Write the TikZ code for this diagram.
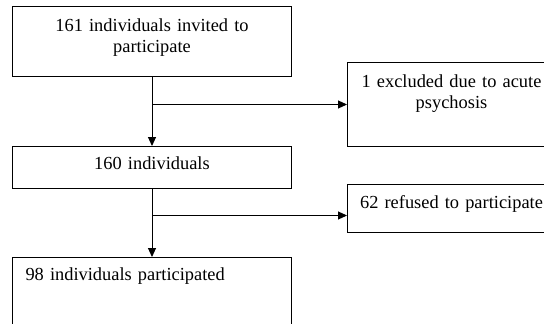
\documentclass[tikz,border=0pt]{standalone}
\usepackage{fontspec}
\setmainfont{Liberation Serif}
\usetikzlibrary{arrows.meta}

\begin{document}
\begin{tikzpicture}[x=1pt, y=1pt,
    box/.style={draw, line width=1pt, anchor=north west, inner sep=0pt, text width=#1, align=center, font=\fontsize{18.4}{21}\selectfont},
    arr/.style={line width=1pt, -{Triangle[width=8pt, length=9pt]}}]
            \useasboundingbox (0,0) rectangle (544,-324);
            \clip (0,0) rectangle (544,-324);

            \node[box=279pt, text height=25pt, text depth=45pt] (invited) at (12,-6) {161 individuals invited to\\participate};
            \node[box=208pt, text height=25pt, text depth=59pt] (excluded) at (347,-62) {1 excluded due to acute\\psychosis};
            \node[box=279pt, text height=23pt, text depth=19pt] (remain) at (12,-146) {160 individuals};
            \node[box=208pt, text height=24pt, text depth=24pt] (refused) at (347,-184) {62 refused to participate};
            \node[box=253pt, inner xsep=13pt, align=left, text height=23pt, text depth=57pt] (joined) at (12,-257) {98 individuals participated};
            \coordinate (refusedin) at ([yshift=-7pt]refused.west);

            \draw[arr] (invited) -- (remain);
            \draw[arr] (invited.south |- excluded.west) -- (excluded.west);
            \draw[arr] (remain) -- (joined);
            \draw[arr] (remain.south |- refusedin) -- (refusedin);
        \end{tikzpicture}
\end{document}
